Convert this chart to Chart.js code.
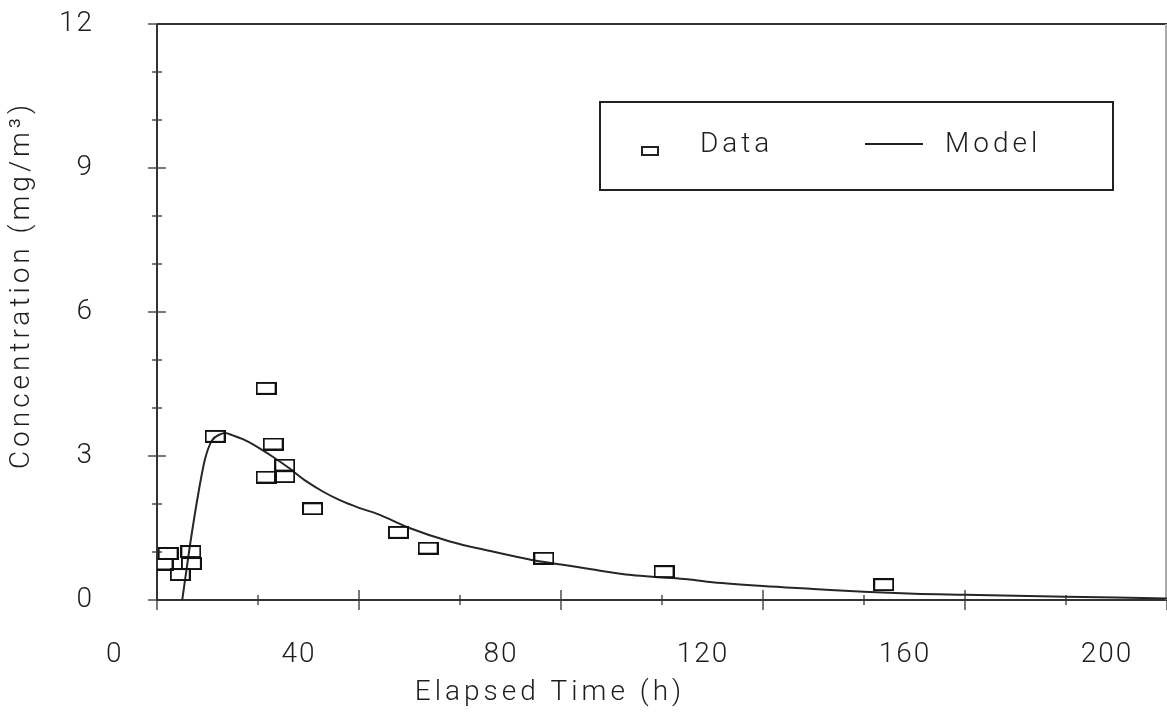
<!DOCTYPE html>
<html>
<head>
<meta charset="utf-8">
<title>Concentration vs elapsed time</title>
<script src="https://cdn.jsdelivr.net/npm/chart.js@4.4.1/dist/chart.umd.min.js"></script>
<style>
  html, body { margin: 0; padding: 0; background: #fff; overflow: hidden; }
  canvas { display: block; }
</style>
</head>
<body>
<canvas id="concChart" width="1167" height="712"></canvas>
<script>
// measured samples (h, mg/m3)
const sampleTimes = [1.2, 2.2, 4.6, 6.7, 6.8, 11.5, 21.6, 23.0, 25.3, 21.6, 25.3, 30.8, 47.8, 53.7, 76.6, 100.4, 143.9];
const sampleConc  = [0.75, 0.97, 0.53, 1.01, 0.76, 3.41, 4.41, 3.25, 2.81, 2.56, 2.57, 1.90, 1.41, 1.08, 0.87, 0.59, 0.32];

// fitted model curve
const modelTimes = [5.0, 6.5, 8.2, 9.5, 10.8, 12.5, 13.5, 15, 17, 20, 23, 26, 29.6, 33, 36.2, 40, 44, 50, 58, 66, 74, 80, 86, 94, 100, 105, 110, 120, 130, 140, 150, 160, 180, 200];
const modelConc  = [0, 1.12, 2.23, 2.93, 3.31, 3.45, 3.48, 3.43, 3.35, 3.18, 2.98, 2.76, 2.47, 2.25, 2.08, 1.92, 1.78, 1.50, 1.22, 1.02, 0.84, 0.74, 0.64, 0.52, 0.47, 0.43, 0.37, 0.29, 0.23, 0.17, 0.13, 0.11, 0.07, 0.03];

// labelled ticks
const xTickLabels = [0, 40, 80, 120, 160, 200];
const yTickLabels = [0, 3, 6, 9, 12];

const xTitle = "Elapsed Time (h)";
const yTitle = "Concentration (mg/m³)";

const FONT = "Roboto, 'Liberation Sans', sans-serif";
const INK = "#1e1e1e";

// open rectangle used as the sample marker
function boxMarker(w, h, lw) {
  const c = document.createElement("canvas");
  c.width = w;
  c.height = h;
  const g = c.getContext("2d");
  g.strokeStyle = "#111";
  g.lineWidth = lw;
  g.strokeRect(lw / 2, lw / 2, w - lw, h - lw);
  return c;
}

// keep the plot box fixed regardless of label overhang
function pinBox(scale, size) {
  if (scale.isHorizontal()) scale.height = size;
  else scale.width = size;
  scale.paddingLeft = 0;
  scale.paddingRight = 0;
  scale.paddingTop = 0;
  scale.paddingBottom = 0;
}

const frame = {
  id: "frame",
  beforeLayout(chart) { chart.ctx.letterSpacing = "2px"; },
  beforeDraw(chart) { chart.ctx.letterSpacing = "2px"; },
  beforeDatasetsDraw(chart) {
    const { ctx, chartArea: a, scales: { x, y } } = chart;
    ctx.save();
    // tick marks crossing the axes
    ctx.strokeStyle = "#7a7a7a";
    ctx.lineWidth = 2;
    x.ticks.forEach(t => {
      const px = Math.round(x.getPixelForValue(t.value));
      const h = t.value % 40 === 0 ? 10 : 5;
      ctx.beginPath();
      ctx.moveTo(px, a.bottom - h);
      ctx.lineTo(px, a.bottom + h);
      ctx.stroke();
    });
    y.ticks.forEach(t => {
      const py = Math.round(y.getPixelForValue(t.value));
      const h = t.value % 3 === 0 ? 9 : 5;
      ctx.beginPath();
      ctx.moveTo(a.left - h, py);
      ctx.lineTo(a.left + h, py);
      ctx.stroke();
    });
    // axes and top border
    ctx.strokeStyle = "#333";
    ctx.beginPath();
    ctx.moveTo(a.left, a.top);
    ctx.lineTo(a.right, a.top);
    ctx.moveTo(a.left, a.top);
    ctx.lineTo(a.left, a.bottom);
    ctx.lineTo(a.right, a.bottom);
    ctx.stroke();
    ctx.strokeStyle = "#aaa";
    ctx.beginPath();
    ctx.moveTo(a.right - 1, a.top);
    ctx.lineTo(a.right - 1, a.bottom);
    ctx.stroke();
    ctx.restore();
  },
  afterDraw(chart) {
    const { ctx, chartArea: a } = chart;
    ctx.save();
    ctx.fillStyle = INK;
    ctx.letterSpacing = "4px";
    ctx.font = "300 28px " + FONT;
    ctx.textBaseline = "middle";

    // axis titles
    ctx.textAlign = "center";
    ctx.fillText(xTitle, 550, a.bottom + 93);
    ctx.save();
    ctx.translate(22, 285);
    ctx.rotate(-Math.PI / 2);
    ctx.fillText(yTitle, 0, 0);
    ctx.restore();

    // legend box
    const lx = 600, ly = a.top + 78, lw = 513, lh = 88;
    ctx.strokeStyle = "#222";
    ctx.lineWidth = 2;
    ctx.strokeRect(lx, ly, lw, lh);
    ctx.strokeRect(642, 147, 16, 8);
    ctx.textAlign = "left";
    ctx.fillText(chart.data.datasets[0].label, 700, 145);
    ctx.beginPath();
    ctx.moveTo(865, 144);
    ctx.lineTo(923, 144);
    ctx.stroke();
    ctx.fillText(chart.data.datasets[1].label, 945, 145);
    ctx.restore();
  }
};

const ctx = document.getElementById("concChart").getContext("2d");
const concChart = new Chart(ctx, {
  type: "scatter",
  data: {
    datasets: [
      {
        label: "Data",
        data: sampleTimes.map((t, i) => ({ x: t, y: sampleConc[i] })),
        pointStyle: boxMarker(21, 13, 2),
        pointRadius: 7,
        showLine: false,
        order: 1
      },
      {
        label: "Model",
        data: modelTimes.map((t, i) => ({ x: t, y: modelConc[i] })),
        showLine: true,
        pointRadius: 0,
        borderColor: "#262626",
        borderWidth: 2,
        cubicInterpolationMode: "monotone",
        order: 2
      }
    ]
  },
  options: {
    responsive: false,
    animation: false,
    layout: {
      autoPadding: false,
      padding: { top: 24, right: 0, bottom: 0, left: 0 }
    },
    plugins: {
      legend: { display: false },
      tooltip: { enabled: false }
    },
    scales: {
      x: {
        type: "linear",
        min: 0,
        max: 200,
        grid: { display: false },
        border: { display: false },
        ticks: {
          stepSize: 20,
          autoSkip: false,
          maxRotation: 0,
          padding: 30,
          labelOffset: -60,
          color: INK,
          font: { family: FONT, size: 28, weight: 300 },
          callback: v => xTickLabels.includes(v) ? (v === 0 ? "    0" : String(v)) : ""
        },
        afterFit: s => pinBox(s, 112)
      },
      y: {
        min: 0,
        max: 12,
        grid: { display: false },
        border: { display: false },
        ticks: {
          stepSize: 1,
          autoSkip: false,
          padding: 55,
          color: INK,
          font: { family: FONT, size: 28, weight: 300 },
          callback: v => yTickLabels.includes(v) ? String(v) : ""
        },
        afterFit: s => pinBox(s, 157)
      }
    }
  },
  plugins: [frame]
});
</script>
</body>
</html>
